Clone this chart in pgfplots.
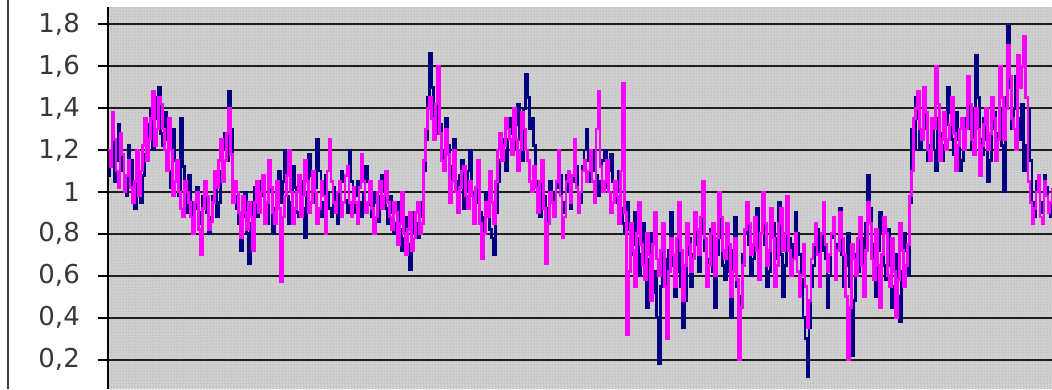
\documentclass[border=0pt]{standalone}
\usepackage{fontspec}
\setmainfont{DejaVu Sans}
\usepackage{pgfplots}
\pgfplotsset{compat=1.18}
\usepackage{pgfplotstable}
\usetikzlibrary{patterns}

\definecolor{navyline}{HTML}{000080}
\definecolor{pinkline}{HTML}{FF00FF}
\definecolor{bggray}{HTML}{D0D0D0}
\definecolor{dotgray}{HTML}{9A9A9A}

% one row per sample: a = first series, b = second series
\pgfplotstableread{
a b
1.08 1.20
1.18 1.12
1.30 1.38
1.05 1.25
1.15 1.10
1.32 1.02
1.25 1.28
1.10 1.18
1.05 1.00
0.98 1.08
1.22 1.15
1.15 1.02
1.00 0.95
0.92 1.05
1.12 1.20
1.05 0.98
0.95 1.10
1.08 1.22
1.18 1.35
1.25 1.15
1.32 1.25
1.40 1.35
1.20 1.48
1.35 1.22
1.45 1.30
1.50 1.45
1.28 1.42
1.22 1.30
1.38 1.20
1.25 1.10
1.10 1.35
1.02 1.20
1.30 0.98
1.15 1.05
1.05 1.15
0.98 1.00
1.35 0.92
1.12 0.88
1.00 1.05
0.90 1.00
1.08 0.95
0.95 0.88
0.85 0.80
0.92 0.95
1.02 1.00
0.85 0.82
0.90 0.70
0.98 0.92
1.05 1.05
0.90 0.98
0.80 0.82
0.88 0.86
0.98 0.95
1.02 1.10
0.88 1.02
0.95 1.15
1.10 1.25
1.20 1.05
1.28 1.15
1.15 1.28
1.48 1.40
1.30 1.18
1.05 0.95
0.98 1.05
0.92 1.00
0.85 0.90
0.72 0.78
0.88 0.98
1.00 0.90
0.80 0.82
0.66 0.95
0.85 0.88
0.95 0.72
1.02 0.95
0.88 1.05
0.95 0.90
1.05 1.00
0.98 1.08
0.92 0.85
0.85 0.95
1.10 1.15
1.00 1.02
0.80 0.90
0.92 0.85
1.02 1.05
1.10 0.92
0.95 0.57
1.05 0.88
1.20 0.98
0.98 1.08
0.85 1.20
0.95 1.00
1.12 0.85
1.02 0.92
0.90 1.00
0.88 1.08
1.05 0.88
0.92 0.98
0.78 1.15
1.00 1.05
1.18 0.90
1.08 0.95
0.95 1.10
1.02 1.00
1.25 0.85
1.10 0.92
0.88 1.05
0.95 0.98
1.08 0.80
1.00 1.10
0.92 1.25
0.88 1.05
1.02 0.95
0.95 0.90
0.85 1.00
1.00 1.05
1.10 0.88
1.05 0.95
0.96 1.08
0.90 1.12
1.20 0.95
1.05 0.88
0.90 1.02
0.98 0.95
1.05 0.85
0.95 1.02
0.88 1.18
1.00 1.05
1.12 0.90
1.05 0.95
0.94 1.05
0.88 0.92
1.00 0.80
0.95 0.88
0.86 1.00
0.98 1.05
1.08 0.92
1.00 0.98
0.92 1.10
0.85 0.95
0.98 0.88
0.90 0.82
0.80 0.95
0.85 0.90
0.95 0.75
0.82 0.85
0.72 1.00
0.78 0.80
0.88 0.70
0.75 0.82
0.63 0.90
0.80 0.72
0.90 0.78
0.85 0.90
0.78 0.95
0.88 0.80
0.95 0.85
1.10 1.15
1.25 1.30
1.45 1.40
1.66 1.45
1.50 1.35
1.35 1.25
1.28 1.42
1.50 1.60
1.32 1.28
1.20 1.15
1.15 1.10
1.35 1.30
1.22 1.18
1.05 0.95
1.12 1.05
1.25 1.20
1.05 1.00
0.95 0.90
1.08 1.02
1.15 1.10
0.92 1.12
1.00 0.98
1.10 0.92
1.20 1.05
1.00 0.98
0.88 0.85
0.95 1.02
1.08 1.15
0.90 0.85
0.80 0.68
0.88 0.80
1.00 0.95
0.92 0.88
0.82 1.10
0.78 0.95
0.70 0.85
0.90 1.05
1.05 1.20
1.15 1.28
1.25 1.15
1.20 1.22
1.10 1.35
1.25 1.30
1.35 1.25
1.28 1.18
1.20 1.40
1.32 1.25
1.42 1.10
1.25 1.20
1.15 1.38
1.40 1.30
1.56 1.20
1.45 1.15
1.30 1.05
1.35 1.00
1.22 1.12
1.05 1.02
0.95 0.90
0.88 1.05
1.10 1.15
0.98 0.92
0.82 0.66
0.92 0.85
1.05 1.00
1.00 0.95
0.90 0.88
1.02 1.05
1.15 1.20
1.08 0.98
0.95 0.78
0.90 0.88
1.08 1.05
1.00 1.10
0.92 0.95
1.05 1.08
1.20 1.25
1.12 1.02
1.00 0.90
0.95 1.00
1.12 1.10
1.20 1.15
1.30 1.05
1.15 1.10
1.05 1.20
1.10 1.05
1.20 0.95
1.08 1.30
0.98 1.48
1.05 1.12
1.15 1.00
1.20 1.05
1.02 1.15
1.10 1.00
1.18 0.90
1.05 0.95
0.95 1.05
1.00 0.98
1.10 0.85
0.92 1.10
0.85 1.52
0.80 0.90
0.95 0.32
0.82 0.62
0.70 0.85
0.75 0.72
0.90 0.55
0.78 0.80
0.60 0.95
0.70 0.75
0.85 0.65
0.62 0.58
0.45 0.80
0.68 0.70
0.80 0.48
0.52 0.75
0.62 0.90
0.40 0.68
0.18 0.60
0.55 0.72
0.75 0.85
0.68 0.55
0.55 0.30
0.72 0.62
0.90 0.78
0.65 0.70
0.50 0.55
0.62 0.78
0.80 0.95
0.55 0.72
0.35 0.48
0.48 0.65
0.70 0.85
0.78 0.75
0.55 0.62
0.70 0.68
0.85 0.90
0.75 0.82
0.62 0.70
0.80 0.88
0.95 1.05
0.72 0.78
0.58 0.55
0.68 0.65
0.82 0.80
0.62 0.85
0.45 0.60
0.70 0.78
0.90 1.00
0.78 0.88
0.65 0.72
0.58 0.68
0.75 0.85
0.62 0.75
0.40 0.50
0.72 0.62
0.88 0.78
0.55 0.58
0.22 0.20
0.50 0.45
0.70 0.65
0.80 0.82
0.92 0.95
0.75 0.85
0.60 0.70
0.68 0.75
0.85 0.88
0.92 0.72
0.72 0.58
0.80 0.80
0.98 1.00
0.75 0.85
0.55 0.65
0.62 0.72
0.80 0.92
0.85 0.78
0.68 0.55
0.78 0.65
0.95 0.85
0.70 0.92
0.50 0.72
0.65 0.80
0.85 0.98
0.78 0.72
0.62 0.60
0.75 0.68
0.90 0.80
0.80 0.62
0.70 0.50
0.58 0.60
0.40 0.75
0.30 0.55
0.12 0.35
0.35 0.48
0.55 0.68
0.65 0.75
0.75 0.85
0.82 0.70
0.60 0.55
0.72 0.80
0.88 0.95
0.68 0.75
0.45 0.62
0.60 0.70
0.78 0.80
0.85 0.88
0.65 0.58
0.75 0.72
0.92 0.90
0.70 0.78
0.55 0.70
0.65 0.50
0.80 0.20
0.55 0.45
0.22 0.75
0.48 0.68
0.70 0.60
0.62 0.78
0.85 0.88
0.78 0.65
0.60 0.50
0.85 0.72
1.08 0.95
0.92 0.85
0.75 0.68
0.62 0.58
0.50 0.82
0.72 0.65
0.90 0.45
0.80 0.70
0.65 0.88
0.58 0.80
0.82 0.60
0.65 0.55
0.45 0.78
0.55 0.62
0.70 0.40
0.50 0.58
0.38 0.85
0.62 0.72
0.80 0.55
0.72 0.65
0.60 0.75
0.95 0.98
1.30 1.10
1.20 1.35
1.45 1.40
1.35 1.48
1.20 1.30
1.28 1.25
1.40 1.50
1.30 1.38
1.15 1.20
1.22 1.15
1.32 1.35
1.20 1.30
1.10 1.60
1.35 1.42
1.28 1.15
1.15 1.25
1.22 1.38
1.32 1.20
1.50 1.25
1.38 1.32
1.25 1.45
1.18 1.28
1.38 1.10
1.25 1.22
1.10 1.30
1.15 1.35
1.30 1.20
1.35 1.30
1.45 1.55
1.30 1.42
1.20 1.25
1.40 1.18
1.65 1.40
1.45 1.30
1.25 1.08
1.18 1.22
1.35 1.32
1.25 1.40
1.05 1.20
1.15 1.28
1.30 1.45
1.38 1.35
1.18 1.15
1.28 1.25
1.40 1.60
1.22 1.45
1.00 1.25
1.45 1.40
1.79 1.70
1.50 1.55
1.30 1.35
1.40 1.30
1.55 1.20
1.35 1.65
1.25 1.50
1.42 1.60
1.10 1.74
1.22 1.45
1.40 1.05
1.15 0.95
0.95 0.85
0.88 0.92
1.05 1.00
1.00 1.08
0.90 0.88
0.95 0.85
1.08 1.05
1.02 0.98
0.92 0.90
0.88 0.95
1.00 1.02
}\series

\begin{document}
\begin{tikzpicture}[x=1pt,y=1pt]
\useasboundingbox (0,0) rectangle (1052,389);
% outer frame line on the left
\draw[line width=2pt, black!75] (8,0) -- (8,389);
\begin{axis}[
  at={(108pt,0pt)}, anchor=south west,
  scale only axis, width=944pt, height=382pt,
  xmin=0, xmax=470, ymin=0.0592, ymax=1.8826,
  axis x line=none,
  axis y line=left,
  axis line style={-, line width=2pt, black},
  ytick={0.2,0.4,0.6,0.8,1,1.2,1.4,1.6,1.8},
  tick align=outside,
  major tick length=10pt,
  ytick style={line width=2pt, black},
  ymajorgrids,
  major grid style={line width=2pt, black!88},
  /pgf/number format/.cd, use comma, assume math mode=true,
  /pgfplots/.cd,
  yticklabel style={font=\fontsize{26}{30}\selectfont, text=black!78, anchor=east, inner sep=0pt, xshift=-18pt},
  axis background/.style={preaction={fill=bggray}, pattern=dots, pattern color=dotgray},
  clip=true,
]
\addplot[navyline, line width=2.8pt, const plot, line join=miter] table[x expr=\coordindex, y=a] {\series};
\addplot[pinkline, line width=2.8pt, const plot, line join=miter] table[x expr=\coordindex, y=b] {\series};
\end{axis}
\end{tikzpicture}
\end{document}
